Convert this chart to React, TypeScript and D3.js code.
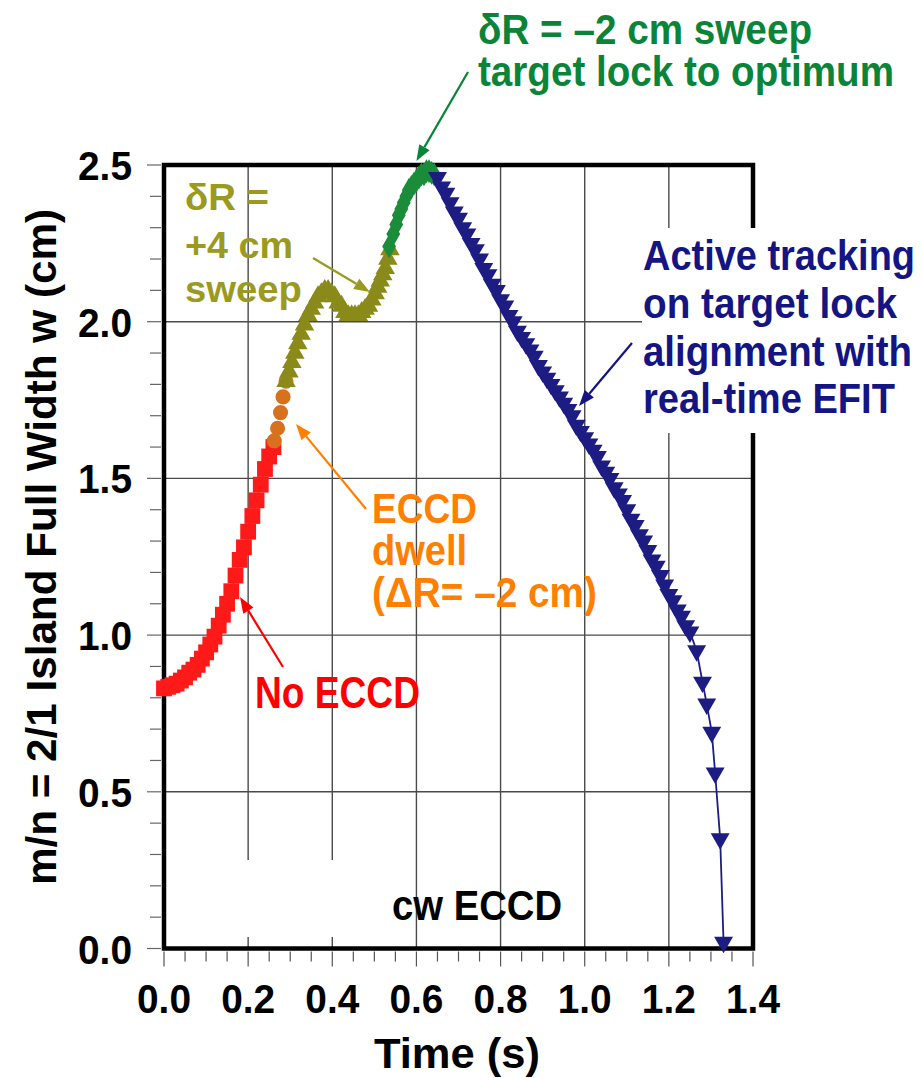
import React from "react";
import * as d3 from "d3";

// ---------- data ----------
const noEccdT = [0.0, 0.01, 0.02, 0.03, 0.04, 0.05, 0.06, 0.07, 0.08, 0.09, 0.1, 0.11, 0.12, 0.13, 0.14, 0.15, 0.16, 0.17, 0.18, 0.19, 0.2, 0.21, 0.22, 0.23, 0.24, 0.25, 0.26];
const noEccdW = [0.83, 0.835, 0.84, 0.845, 0.855, 0.865, 0.88, 0.89, 0.905, 0.925, 0.945, 0.97, 0.995, 1.03, 1.065, 1.1, 1.14, 1.19, 1.24, 1.28, 1.33, 1.38, 1.43, 1.48, 1.53, 1.57, 1.6];

const dwellT = [0.262, 0.27, 0.277, 0.283, 0.29];
const dwellW = [1.62, 1.66, 1.71, 1.76, 1.81];

const sweepUpT = [0.29, 0.297, 0.304, 0.311, 0.318, 0.326, 0.334, 0.342, 0.35, 0.358, 0.366, 0.374, 0.382, 0.39, 0.398, 0.406, 0.414, 0.422, 0.43, 0.438, 0.446, 0.454, 0.462, 0.47, 0.478, 0.486, 0.494, 0.502, 0.508, 0.514, 0.52, 0.526, 0.532, 0.537];
const sweepUpW = [1.81, 1.84, 1.87, 1.9, 1.93, 1.96, 1.99, 2.02, 2.04, 2.06, 2.08, 2.09, 2.1, 2.1, 2.09, 2.08, 2.06, 2.05, 2.03, 2.02, 2.02, 2.02, 2.02, 2.03, 2.04, 2.05, 2.07, 2.09, 2.11, 2.13, 2.15, 2.17, 2.2, 2.23];

const sweepDownT = [0.535, 0.545, 0.552, 0.558, 0.564, 0.57, 0.576, 0.582, 0.588, 0.594, 0.6, 0.606, 0.612, 0.618, 0.624, 0.63, 0.636, 0.642];
const sweepDownW = [2.24, 2.28, 2.31, 2.34, 2.36, 2.38, 2.4, 2.42, 2.43, 2.44, 2.45, 2.46, 2.47, 2.47, 2.48, 2.48, 2.475, 2.47];

const trackT = [0.65, 0.66, 0.67, 0.68, 0.69, 0.7, 0.71, 0.72, 0.73, 0.74, 0.75, 0.76, 0.77, 0.78, 0.79, 0.8, 0.81, 0.82, 0.83, 0.84, 0.85, 0.86, 0.87, 0.88, 0.89, 0.9, 0.91, 0.92, 0.93, 0.94, 0.95, 0.96, 0.97, 0.98, 0.99, 1.0, 1.01, 1.02, 1.03, 1.04, 1.05, 1.06, 1.07, 1.08, 1.09, 1.1, 1.11, 1.12, 1.13, 1.14, 1.15, 1.16, 1.17, 1.18, 1.19, 1.2, 1.21, 1.22, 1.23, 1.24, 1.25, 1.266, 1.28, 1.29, 1.302, 1.31, 1.322, 1.33];
const trackW = [2.46, 2.43, 2.41, 2.38, 2.35, 2.33, 2.3, 2.28, 2.25, 2.23, 2.2, 2.17, 2.15, 2.12, 2.1, 2.07, 2.05, 2.02, 2.0, 1.97, 1.95, 1.93, 1.91, 1.89, 1.86, 1.84, 1.82, 1.8, 1.78, 1.76, 1.74, 1.72, 1.7, 1.67, 1.65, 1.63, 1.61, 1.59, 1.57, 1.54, 1.52, 1.5, 1.47, 1.45, 1.43, 1.4, 1.37, 1.35, 1.32, 1.3, 1.27, 1.24, 1.22, 1.19, 1.16, 1.13, 1.11, 1.08, 1.06, 1.03, 1.01, 0.95, 0.85, 0.78, 0.69, 0.56, 0.35, 0.02];

const xTicks = [0, 0.2, 0.4, 0.6, 0.8, 1.0, 1.2, 1.4];
const yTicks = [0, 0.5, 1.0, 1.5, 2.0, 2.5];

// ---------- layout ----------
const W = 923, H = 1078;
const x = d3.scaleLinear().domain([0, 1.4]).range([164, 753]);
const y = d3.scaleLinear().domain([0, 2.5]).range([948.5, 165]);

const FONT = "'Liberation Sans', Arial, Helvetica, sans-serif";

const zip = (t: number[], w: number[]) => t.map((v, i) => [v, w[i]] as [number, number]);

function T(props: { x: number; y: number; s: string; fill?: string; size: number; w: number; anchor?: string; transform?: string }) {
  return (
    <text
      x={props.x}
      y={props.y}
      fill={props.fill || "#000"}
      fontSize={props.size}
      fontWeight="bold"
      fontFamily={FONT}
      textAnchor={props.anchor || "start"}
      textLength={props.w}
      lengthAdjust="spacingAndGlyphs"
      transform={props.transform}
    >
      {props.s}
    </text>
  );
}

function Arrow(props: { x1: number; y1: number; x2: number; y2: number; color: string }) {
  const { x1, y1, x2, y2, color } = props;
  const a = Math.atan2(y2 - y1, x2 - x1);
  const L = 16, Wd = 6;
  const bx = x2 - L * Math.cos(a), by = y2 - L * Math.sin(a);
  const p1 = [bx + Wd * Math.sin(a), by - Wd * Math.cos(a)];
  const p2 = [bx - Wd * Math.sin(a), by + Wd * Math.cos(a)];
  return (
    <g>
      <line x1={x1} y1={y1} x2={bx} y2={by} stroke={color} strokeWidth={2.2} />
      <polygon points={`${x2},${y2} ${p1[0]},${p1[1]} ${p2[0]},${p2[1]}`} fill={color} />
    </g>
  );
}

export default function App() {
  const line = d3.line<[number, number]>().x((d) => x(d[0])).y((d) => y(d[1]));
  const sq = d3.symbol().type(d3.symbolSquare).size(250)()!;
  const circ = d3.symbol().type(d3.symbolCircle).size(180)()!;
  const tri = d3.symbol().type(d3.symbolTriangle).size(165)()!;
  const triB = d3.symbol().type(d3.symbolTriangle).size(155)()!;
  const dia = d3.symbol().type(d3.symbolDiamond).size(165)()!;

  const red = zip(noEccdT, noEccdW);
  const orange = zip(dwellT, dwellW);
  const olive = zip(sweepUpT, sweepUpW);
  const green = zip(sweepDownT, sweepDownW);
  const blue = zip(trackT, trackW);

  const xMinor = d3.range(0, 1.4001, 0.05);
  const yMinor = d3.range(0, 2.5001, 0.1);

  const gridColor = "#4a4a4a";

  return (
    <svg width={W} height={H} style={{ position: "absolute", left: 0, top: 0, background: "#fff" }}>
      <rect x={0} y={0} width={W} height={H} fill="#fff" />
      {/* grid */}
      {xTicks.map((t) => (
        <line key={"gx" + t} x1={x(t)} x2={x(t)} y1={y(2.5)} y2={y(0)} stroke={gridColor} strokeWidth={1.4} />
      ))}
      {yTicks.map((v) => (
        <line key={"gy" + v} x1={x(0)} x2={x(1.4)} y1={y(v)} y2={y(v)} stroke={gridColor} strokeWidth={1.4} />
      ))}
      {/* minor ticks */}
      {xMinor.map((t, i) => (
        <line key={"xm" + i} x1={x(t)} x2={x(t)} y1={y(0) + 3} y2={y(0) + (i % 4 === 0 ? 18 : 13)} stroke="#555" strokeWidth={1.2} />
      ))}
      {yMinor.map((v, i) => (
        <line key={"ym" + i} x1={x(0) - (i % 5 === 0 ? 17 : 14)} x2={x(0) - 3} y1={y(v)} y2={y(v)} stroke="#666" strokeWidth={1.2} />
      ))}
      {/* frame */}
      <rect x={x(0)} y={y(2.5)} width={x(1.4) - x(0)} height={y(0) - y(2.5)} fill="none" stroke="#000" strokeWidth={4.5} />
      {/* white label boxes */}
      <rect x={642} y={228} width={W - 642} height={205} fill="#fff" />
      <rect x={167} y={860} width={222} height={77} fill="#fff" />

      {/* series lines */}
      <path d={line(blue)!} fill="none" stroke="#1c1c82" strokeWidth={1.8} />
      <path d={line(olive)!} fill="none" stroke="#1a8c3a" strokeWidth={1.2} />
      <path d={line(green)!} fill="none" stroke="#1a8c3a" strokeWidth={1.2} />
      <path d={line(red)!} fill="none" stroke="#ff1a1a" strokeWidth={1.2} />

      {/* markers */}
      {red.map((d, i) => (
        <path key={"r" + i} d={sq} transform={`translate(${x(d[0])},${y(d[1])})`} fill="#ff1a1a" />
      ))}
      {orange.map((d, i) => (
        <path key={"o" + i} d={circ} transform={`translate(${x(d[0])},${y(d[1])})`} fill="#d8711e" />
      ))}
      {olive.map((d, i) => (
        <path key={"ol" + i} d={tri} transform={`translate(${x(d[0])},${y(d[1])})`} fill="#8a8a1a" />
      ))}
      {green.map((d, i) => (
        <path key={"g" + i} d={dia} transform={`translate(${x(d[0])},${y(d[1])})`} fill="#1a8c3a" />
      ))}
      {blue.map((d, i) => (
        <path key={"b" + i} d={triB} transform={`translate(${x(d[0])},${y(d[1])}) rotate(180)`} fill="#1c1c82" />
      ))}

      {/* tick labels */}
      {xTicks.map((t) => (
        <T key={"xl" + t} x={x(t)} y={1013} s={t.toFixed(1)} size={41} w={54} anchor="middle" />
      ))}
      {yTicks.map((v) => (
        <T key={"yl" + v} x={132} y={y(v) + 15} s={v.toFixed(1)} size={41} w={54} anchor="end" />
      ))}
      <T x={457} y={1068} s="Time (s)" size={43} w={166} anchor="middle" />
      <T x={0} y={0} s="m/n = 2/1 Island Full Width w (cm)" size={42} w={676} anchor="middle" transform="translate(56,547) rotate(-90)" />

      {/* annotations */}
      <T x={478} y={44} s="δR = –2 cm sweep" size={42} w={334} fill="#0a8438" />
      <T x={478} y={86} s="target lock to optimum" size={42} w={416} fill="#0a8438" />
      <Arrow x1={468} y1={72} x2={x(0.6)} y2={y(2.5) - 4} color="#0a8438" />

      <T x={185} y={210} s="δR =" size={37} w={84} fill="#9a9a20" />
      <T x={185} y={258} s="+4 cm" size={37} w={108} fill="#9a9a20" />
      <T x={185} y={302} s="sweep" size={37} w={117} fill="#9a9a20" />
      <Arrow x1={313} y1={258} x2={370} y2={292} color="#9a9a20" />

      <T x={372} y={523} s="ECCD" size={43} w={105} fill="#ff7f00" />
      <T x={372} y={565} s="dwell" size={43} w={95} fill="#ff7f00" />
      <T x={372} y={607} s="(ΔR= –2 cm)" size={43} w={225} fill="#ff7f00" />
      <Arrow x1={366} y1={509} x2={296} y2={424} color="#ff7f00" />

      <T x={255} y={708} s="No ECCD" size={44} w={165} fill="#ff0000" />
      <Arrow x1={283} y1={667} x2={240} y2={597} color="#ff0000" />

      <T x={643} y={270} s="Active tracking" size={42} w={272} fill="#141482" />
      <T x={643} y={318} s="on target lock" size={42} w={254} fill="#141482" />
      <T x={643} y={366} s="alignment with" size={42} w={269} fill="#141482" />
      <T x={643} y={413} s="real-time EFIT" size={42} w={252} fill="#141482" />
      <Arrow x1={632} y1={343} x2={579} y2={406} color="#141482" />

      <T x={392} y={920} s="cw ECCD" size={42} w={170} />
    </svg>
  );
}
